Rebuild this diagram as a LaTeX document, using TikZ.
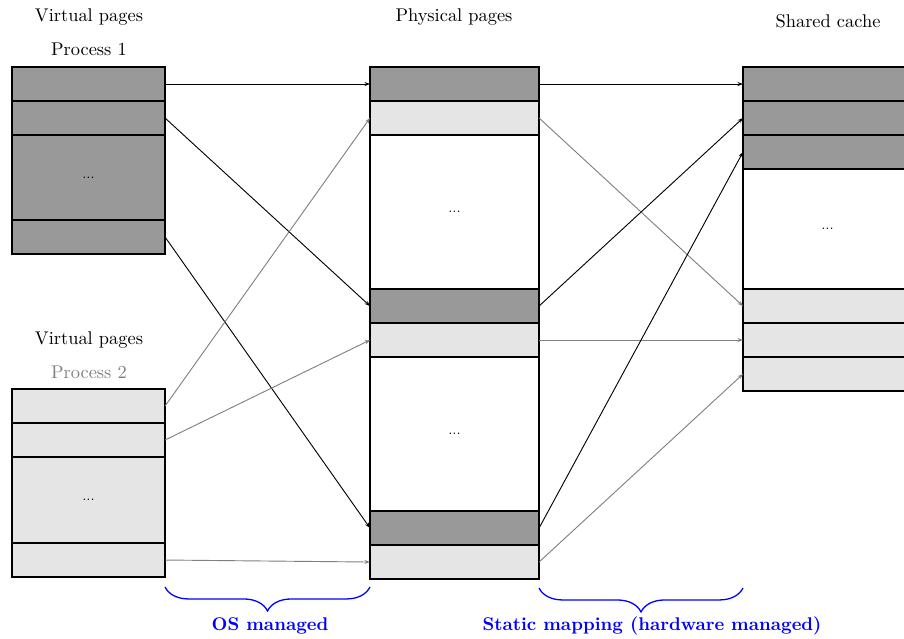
\documentclass[tikz,border=0pt]{standalone}
\usetikzlibrary{decorations.pathreplacing,arrows.meta}
\begin{document}
\begin{tikzpicture}[x=0.5435pt,y=-0.5435pt,
  cell/.style={draw, line width=0.7pt, inner sep=0pt, outer sep=0pt, anchor=north west, font=\scriptsize},
  dk/.style={cell, fill=black!40},
  lt/.style={cell, fill=black!10},
  wh/.style={cell, fill=white},
  vw/.style={minimum width=83.2pt},
  pw/.style={minimum width=91.9pt},
  rh/.style={minimum height=18.5pt},
  ar/.style={-{Stealth[length=3pt,width=2.2pt]}, line width=0.5pt, black},
  arg/.style={-{Stealth[length=3pt,width=2.2pt]}, line width=0.5pt, black!50},
  brc/.style={decorate, decoration={brace, mirror, amplitude=13pt}, blue, line width=0.7pt},
  lbl/.style={font=\normalsize},
  blbl/.style={font=\bfseries, text=blue}
]
\useasboundingbox (0,0) rectangle (904,638);

% titles
\node[lbl] (t1) at (89,17) {Virtual pages};
\node[lbl] (t2) at (89,49) {Process 1};
\node[lbl] (t3) at (454,17) {Physical pages};
\node[lbl] (t4) at (828,21) {Shared cache};
\node[lbl] (t5) at (89,340) {Virtual pages};
\node[lbl, text=black!50] (t6) at (89,372) {Process 2};

% process 1
\node[dk,vw,rh] (a1) at (12,67) {};
\node[dk,vw,rh] (a2) at (12,101) {};
\node[dk,vw,minimum height=46.2pt] (a3) at (12,135) {...};
\node[dk,vw,rh] (a4) at (12,220) {};

% process 2
\node[lt,vw,rh] (b1) at (12,389) {};
\node[lt,vw,rh] (b2) at (12,423) {};
\node[lt,vw,minimum height=46.7pt] (b3) at (12,457) {...};
\node[lt,vw,rh] (b4) at (12,543) {};

% physical
\node[dk,pw,rh] (c1) at (370,67) {};
\node[lt,pw,rh] (c2) at (370,101) {};
\node[wh,pw,minimum height=83.7pt] (c3) at (370,135) {...};
\node[dk,pw,rh] (c4) at (370,289) {};
\node[lt,pw,rh] (c5) at (370,323) {};
\node[wh,pw,minimum height=83.7pt] (c6) at (370,357) {...};
\node[dk,pw,rh] (c7) at (370,511) {};
\node[lt,pw,rh] (c8) at (370,545) {};

% shared cache
\node[dk,pw,rh] (d1) at (743,67) {};
\node[dk,pw,rh] (d2) at (743,101) {};
\node[dk,pw,rh] (d3) at (743,135) {};
\node[wh,pw,minimum height=65.2pt] (d4) at (743,169) {...};
\node[lt,pw,rh] (d5) at (743,289) {};
\node[lt,pw,rh] (d6) at (743,323) {};
\node[lt,pw,rh] (d7) at (743,357) {};

% arrows virtual -> physical
\draw[ar] (a1.east) -- (c1.west);
\draw[ar] (a2.east) -- (c4.west);
\draw[ar] (a4.east) -- (c7.west);
\draw[arg] (b1.east) -- (c2.west);
\draw[arg] (b2.east) -- (c5.west);
\draw[arg] (b4.east) -- (c8.west);

% arrows physical -> cache
\draw[ar] (c1.east) -- (d1.west);
\draw[arg] (c2.east) -- (d5.west);
\draw[ar] (c4.east) -- (d2.west);
\draw[arg] (c5.east) -- (d6.west);
\draw[ar] (c7.east) -- (d3.west);
\draw[arg] (c8.east) -- (d7.west);

% braces
\coordinate (ba) at (165,587);
\coordinate (bb) at (370,587);
\coordinate (bc) at (539,588);
\coordinate (bd) at (743,588);
\draw[brc] (ba) -- (bb);
\draw[brc] (bc) -- (bd);
\node[blbl] (os) at (270,626) {OS managed};
\node[blbl] (hw) at (652,626) {Static mapping (hardware managed)};
\end{tikzpicture}
\end{document}
